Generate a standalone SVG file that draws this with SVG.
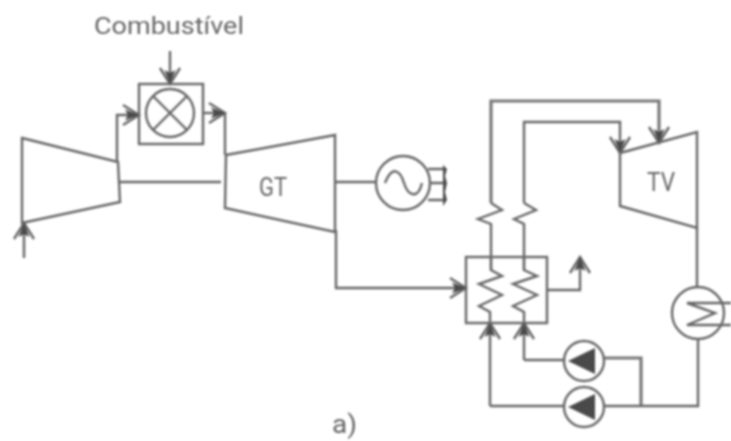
<svg xmlns="http://www.w3.org/2000/svg" width="731" height="441" viewBox="0 0 731 441">
<defs><style>
.l{fill:none;stroke:#666;stroke-width:2.4;stroke-linejoin:miter}
.t{fill:none;stroke:#777;stroke-width:3.2}
.h{fill:#4a4a4a}
.x{font-family:"Roboto","Liberation Sans",sans-serif;fill:#666;font-weight:400}
</style>
<filter id="soft" x="0" y="0" width="731" height="441" filterUnits="userSpaceOnUse"><feGaussianBlur stdDeviation="0.8"/></filter>
<marker id="arr" markerUnits="userSpaceOnUse" markerWidth="30" markerHeight="30" refX="24" refY="15" orient="auto" overflow="visible">
<path d="M8 5L24 15L8 25" fill="none" stroke="#666" stroke-width="2.4"/><path d="M24 15L10 9.5L13 15L10 20.5Z" fill="#4a4a4a"/>
</marker>
</defs>
<rect width="731" height="441" fill="#fff"/>
<g filter="url(#soft)">
<g id="connectors">
<path class="l" d="M117 162V115H139" marker-end="url(#arr)"/>
<path class="l" d="M204 113H225" marker-end="url(#arr)"/>
<path class="l" d="M225 113V155"/>
<path class="l" d="M120 182H221"/>
<path class="l" d="M336 182H376"/>
<path class="l" d="M336 230V288H466" marker-end="url(#arr)"/>
<path class="l" d="M547 290H580V257" marker-end="url(#arr)"/>
<path class="l" d="M170 51V84" marker-end="url(#arr)"/>
<path class="l" d="M24 258V223" marker-end="url(#arr)"/>
<path class="t" d="M491 203V101H659V143" marker-end="url(#arr)"/>
<path class="l" d="M524 203V122H620V153" marker-end="url(#arr)"/>
<path class="l" d="M491 203L502 210L478 219L491 224V270"/>
<path class="l" d="M524 203L536 210L514 219L524 224V270"/>
<path class="l" d="M490 406V323" marker-end="url(#arr)"/>
<path class="l" d="M490 406H564"/>
<path class="l" d="M524 360V323" marker-end="url(#arr)"/>
<path class="l" d="M524 360H564"/>
<path class="t" d="M604 358H641V406"/>
<path class="l" d="M604 406H698V339"/>
<path class="l" d="M697 228V287"/>
<path class="l" d="M428 169H444M430 183H444M428 200H444"/>
<path class="h" d="M443 165L447 169L445 176L447 183L445 192L447 200L443 206Z"/>
</g>
<g id="compressor"><path class="l" d="M22 138L118 162L120 202L22 223Z"/></g>
<g id="combustor"><rect class="l" x="139" y="84" width="64" height="60"/><circle class="l" cx="170" cy="113" r="24"/><path class="l" d="M153 96L187 130M187 96L153 130"/></g>
<g id="fuel-label"><text class="x" x="94" y="34" font-size="24" textLength="150" lengthAdjust="spacingAndGlyphs">Combustível</text></g>
<g id="gas-turbine"><path class="l" d="M226 155L335 135V232L225 208Z"/><text class="x" x="259" y="196" font-size="25" textLength="28" lengthAdjust="spacingAndGlyphs">GT</text></g>
<g id="generator"><circle class="l" cx="403" cy="183" r="27"/><path class="l" d="M385 183C392 165 400 170 404 183S418 200 422 183"/></g>
<g id="steam-turbine"><path class="l" d="M620 153L697 132V228L620 206Z"/><text class="x" x="647" y="191" font-size="25" textLength="28" lengthAdjust="spacingAndGlyphs">TV</text></g>
<g id="hrsg"><rect class="l" x="466" y="257" width="81" height="66"/><path class="l" d="M491 257V270L502 276L479 284L502 295L479 306L490 312V323"/><path class="l" d="M524 257V270L537 276L513 284L537 295L513 306L524 312V323"/></g>
<g id="condenser"><circle class="l" cx="698" cy="313" r="26"/><path class="l" d="M731 303H687L715 313L687 325H731"/></g>
<g id="pump-1"><circle class="l" cx="584" cy="361" r="20"/><path class="h" d="M568 361L595 348V374Z"/></g>
<g id="pump-2"><circle class="l" cx="584" cy="407" r="20"/><path class="h" d="M568 407L595 394V420Z"/></g>
<g id="label-a"><text class="x" x="332" y="433" font-size="26" textLength="25" lengthAdjust="spacingAndGlyphs">a)</text></g>
</g>
</svg>
